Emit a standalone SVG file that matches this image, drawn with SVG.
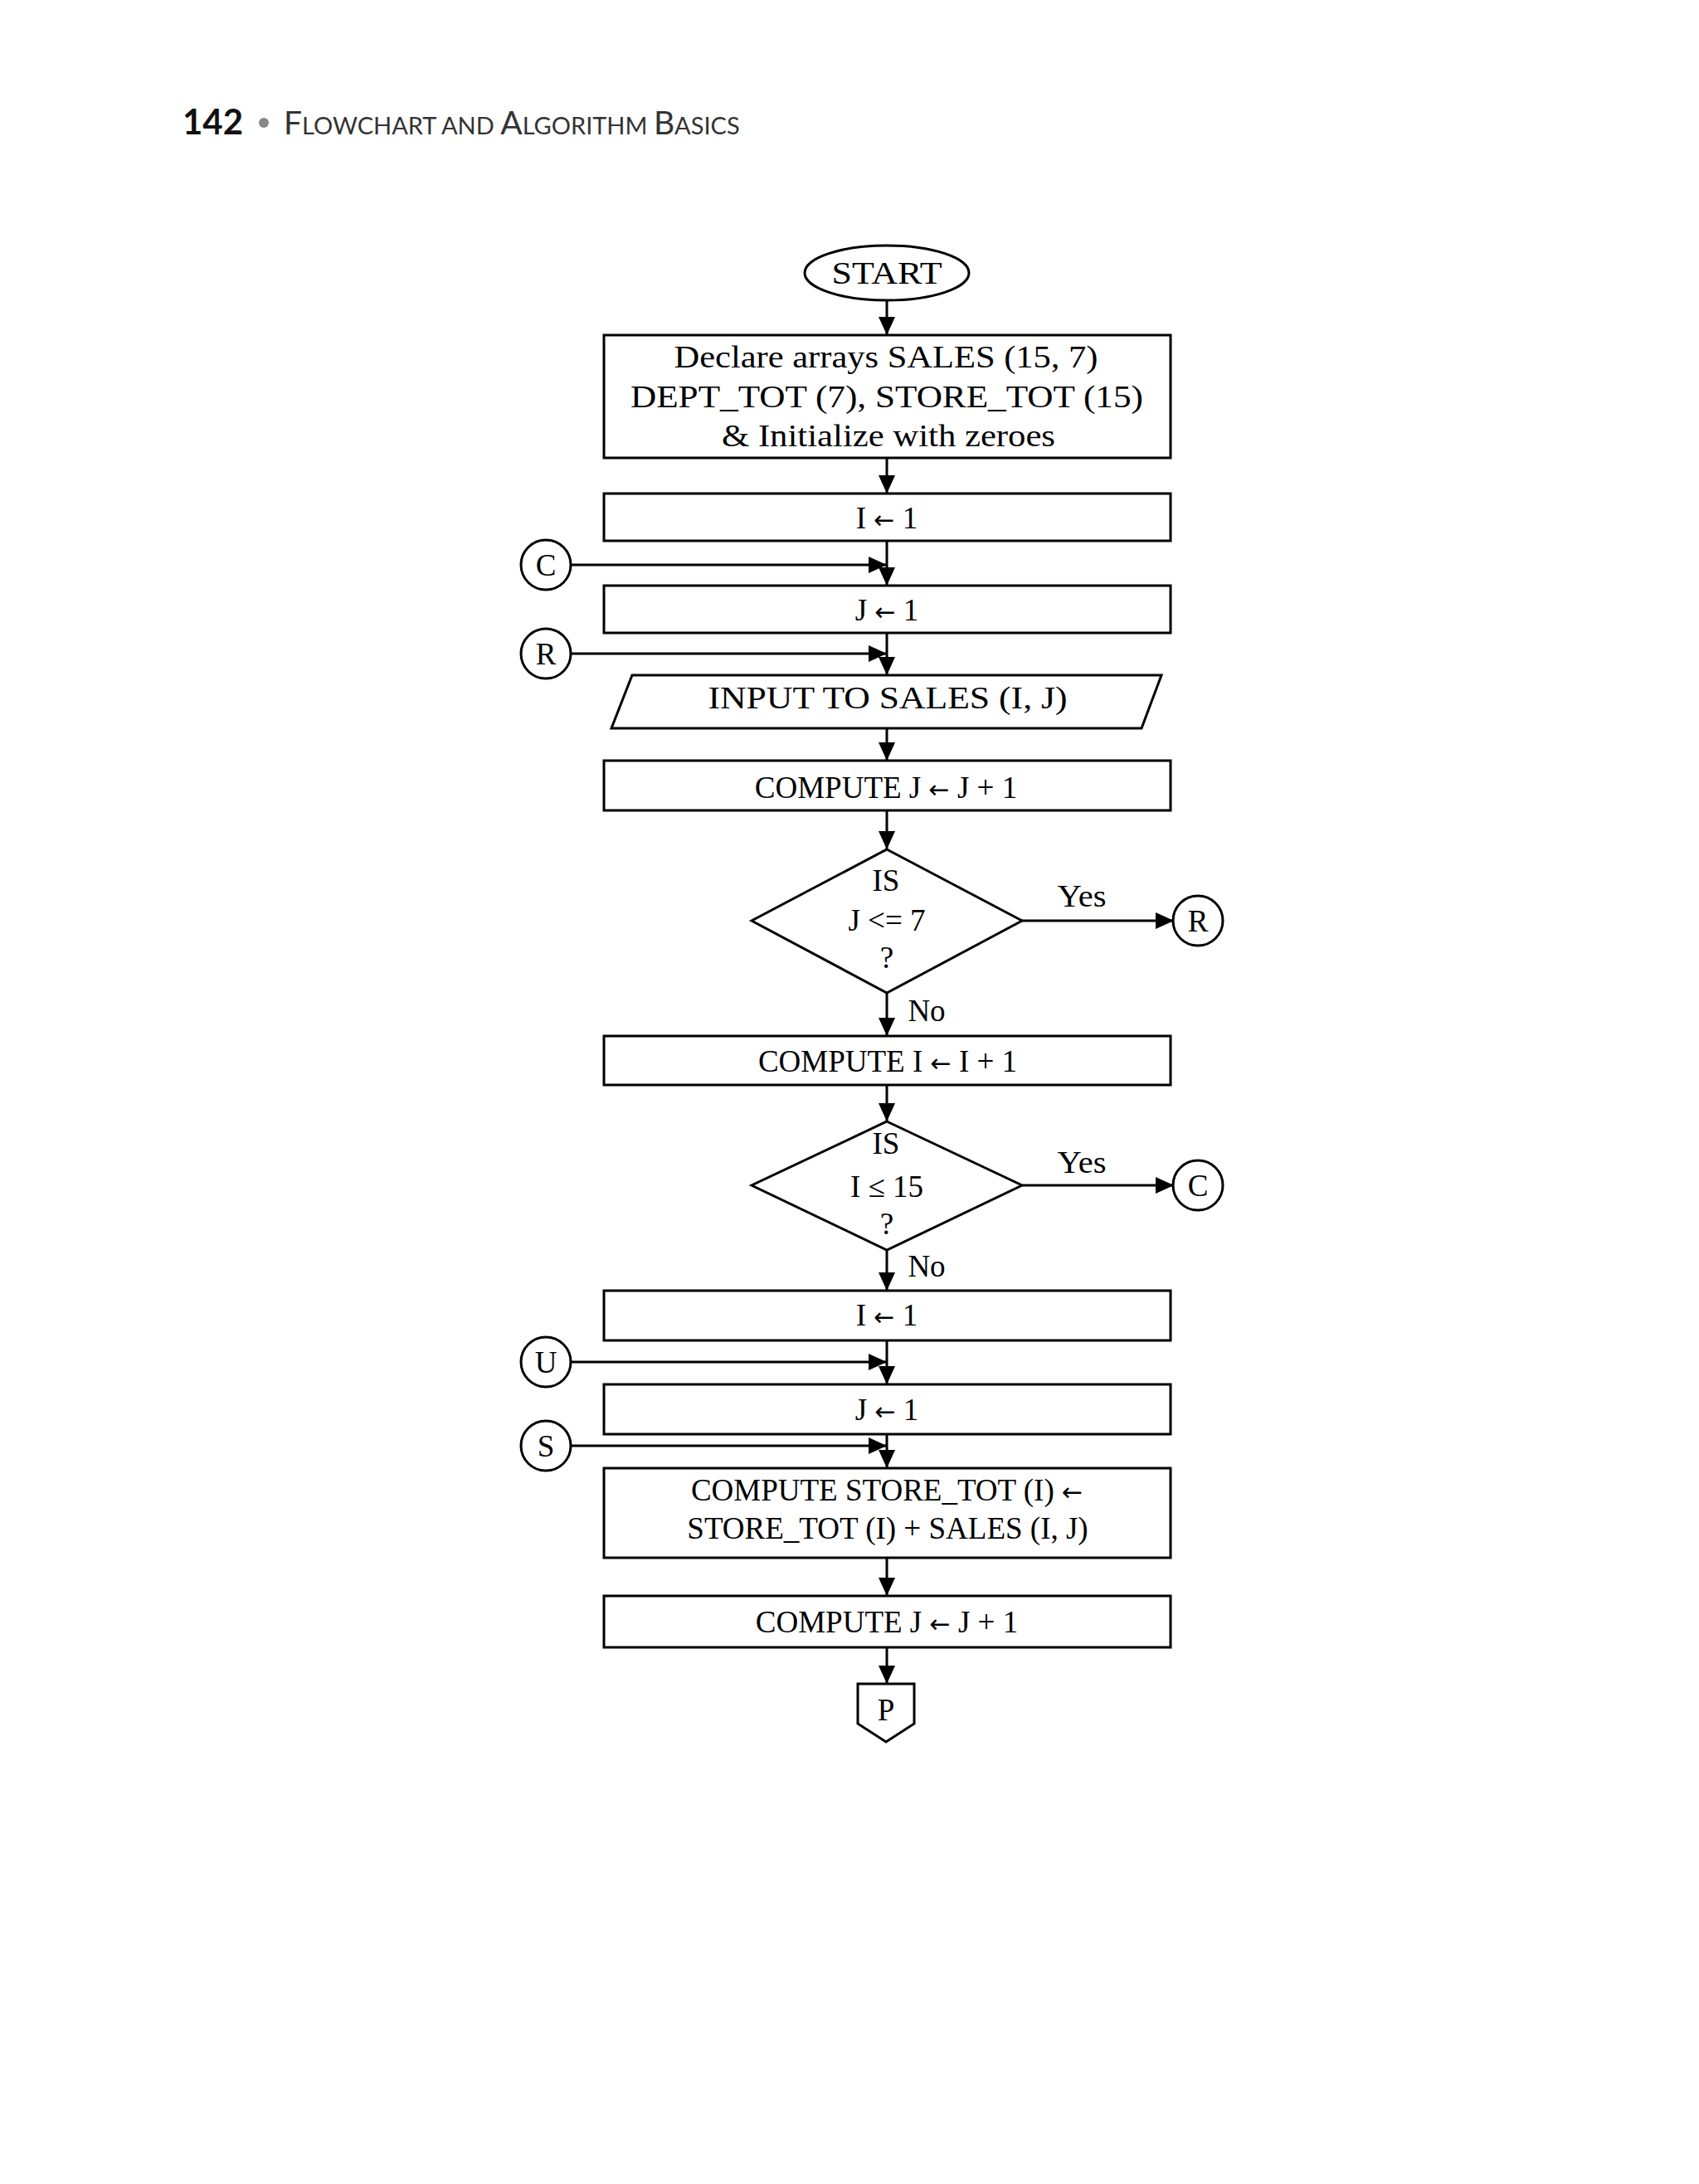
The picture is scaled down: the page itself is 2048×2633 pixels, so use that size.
<svg xmlns="http://www.w3.org/2000/svg" width="2048" height="2633" viewBox="0 0 2048 2633">
<style>
.s{fill:#fff;stroke:#000;stroke-width:3}
.t{font-family:"Liberation Serif","Times New Roman",serif;font-size:37px;fill:#000;text-anchor:middle}
.ar{font-family:"DejaVu Sans",sans-serif;font-size:30px}
.c{stroke:#000;stroke-width:3;fill:none;marker-end:url(#a)}
.h{font-family:Lato,"Open Sans",sans-serif;fill:#333}
</style>
<defs>
<marker id="a" markerUnits="userSpaceOnUse" markerWidth="24" markerHeight="22" refX="22" refY="10" orient="auto"><path d="M0,0 L22,10 L0,20 Z" fill="#000"/></marker>
</defs>
<rect width="2048" height="2633" fill="#fff"/>
<g id="header">
<text x="220" y="162" font-family="Lato, Open Sans, sans-serif" font-weight="bold" font-size="42" fill="#111">142</text>
<circle cx="318" cy="148" r="6" fill="#888"/>
<text x="342" y="162" class="h" font-size="39">F<tspan font-size="29">LOWCHART AND </tspan>A<tspan font-size="29">LGORITHM </tspan>B<tspan font-size="29">ASICS</tspan></text>
</g>
<g id="connectors">
<line class="c" x1="1069" y1="362" x2="1069" y2="404"/>
<line class="c" x1="1069" y1="552" x2="1069" y2="595"/>
<line class="c" x1="1069" y1="652" x2="1069" y2="706"/>
<line class="c" x1="688" y1="681" x2="1069" y2="681"/>
<line class="c" x1="1069" y1="763" x2="1069" y2="814"/>
<line class="c" x1="688" y1="788" x2="1069" y2="788"/>
<line class="c" x1="1069" y1="878" x2="1069" y2="917"/>
<line class="c" x1="1069" y1="977" x2="1069" y2="1024"/>
<line class="c" x1="1069" y1="1197" x2="1069" y2="1249"/>
<line class="c" x1="1232" y1="1110" x2="1415" y2="1110"/>
<line class="c" x1="1069" y1="1308" x2="1069" y2="1352"/>
<line class="c" x1="1232" y1="1429" x2="1415" y2="1429"/>
<line class="c" x1="1069" y1="1507" x2="1069" y2="1556"/>
<line class="c" x1="1069" y1="1616" x2="1069" y2="1669"/>
<line class="c" x1="688" y1="1642" x2="1069" y2="1642"/>
<line class="c" x1="1069" y1="1729" x2="1069" y2="1770"/>
<line class="c" x1="688" y1="1743" x2="1069" y2="1743"/>
<line class="c" x1="1069" y1="1878" x2="1069" y2="1924"/>
<line class="c" x1="1069" y1="1986" x2="1069" y2="2030"/>
<text class="t" x="1304" y="1093" textLength="59" lengthAdjust="spacingAndGlyphs">Yes</text>
<text class="t" x="1117" y="1231">No</text>
<text class="t" x="1304" y="1414" textLength="59" lengthAdjust="spacingAndGlyphs">Yes</text>
<text class="t" x="1117" y="1539">No</text>
</g>
<g id="start"><ellipse class="s" cx="1069" cy="329" rx="99" ry="33"/><text class="t" x="1069" y="342" textLength="133" lengthAdjust="spacingAndGlyphs">START</text></g>
<g id="declare"><rect class="s" x="728" y="404" width="683" height="148"/>
<text class="t" x="1068" y="443" textLength="511" lengthAdjust="spacingAndGlyphs">Declare arrays SALES (15, 7)</text>
<text class="t" x="1069" y="491" textLength="618" lengthAdjust="spacingAndGlyphs">DEPT_TOT (7), STORE_TOT (15)</text>
<text class="t" x="1071" y="538" textLength="402" lengthAdjust="spacingAndGlyphs">&amp; Initialize with zeroes</text></g>
<g id="i1"><rect class="s" x="728" y="595" width="683" height="57"/><text class="t" x="1069" y="637">I <tspan class="ar">←</tspan> 1</text></g>
<g id="cC1"><circle class="s" cx="658" cy="681" r="30"/><text class="t" x="658" y="694">C</text></g>
<g id="j1"><rect class="s" x="728" y="706" width="683" height="57"/><text class="t" x="1069" y="748">J <tspan class="ar">←</tspan> 1</text></g>
<g id="cR1"><circle class="s" cx="658" cy="788" r="30"/><text class="t" x="658" y="801">R</text></g>
<g id="input"><polygon class="s" points="762,814 1400,814 1376,878 737,878"/><text class="t" x="1070" y="854" textLength="433" lengthAdjust="spacingAndGlyphs">INPUT TO SALES (I, J)</text></g>
<g id="jinc1"><rect class="s" x="728" y="917" width="683" height="60"/><text class="t" x="1068" y="962">COMPUTE J <tspan class="ar">←</tspan> J + 1</text></g>
<g id="d1"><polygon class="s" points="1069,1024 1232,1110 1069,1197 906,1110"/>
<text class="t" x="1068" y="1074">IS</text><text class="t" x="1069" y="1122">J &lt;= 7</text><text class="t" x="1069" y="1167">?</text></g>
<g id="cR2"><circle class="s" cx="1444" cy="1110" r="30"/><text class="t" x="1444" y="1123">R</text></g>
<g id="iinc"><rect class="s" x="728" y="1249" width="683" height="59"/><text class="t" x="1070" y="1292">COMPUTE I <tspan class="ar">←</tspan> I + 1</text></g>
<g id="d2"><polygon class="s" points="1069,1352 1232,1429 1069,1507 906,1429"/>
<text class="t" x="1068" y="1391">IS</text><text class="t" x="1069" y="1443">I ≤ 15</text><text class="t" x="1069" y="1488">?</text></g>
<g id="cC2"><circle class="s" cx="1444" cy="1429" r="30"/><text class="t" x="1444" y="1442">C</text></g>
<g id="i2"><rect class="s" x="728" y="1556" width="683" height="60"/><text class="t" x="1069" y="1598">I <tspan class="ar">←</tspan> 1</text></g>
<g id="cU"><circle class="s" cx="658" cy="1642" r="30"/><text class="t" x="658" y="1655">U</text></g>
<g id="j2"><rect class="s" x="728" y="1669" width="683" height="60"/><text class="t" x="1069" y="1712">J <tspan class="ar">←</tspan> 1</text></g>
<g id="cS"><circle class="s" cx="658" cy="1743" r="30"/><text class="t" x="658" y="1756">S</text></g>
<g id="store"><rect class="s" x="728" y="1770" width="683" height="108"/>
<text class="t" x="1069" y="1809">COMPUTE STORE_TOT (I) <tspan class="ar">←</tspan></text>
<text class="t" x="1070" y="1855">STORE_TOT (I) + SALES (I, J)</text></g>
<g id="jinc2"><rect class="s" x="728" y="1924" width="683" height="62"/><text class="t" x="1069" y="1968">COMPUTE J <tspan class="ar">←</tspan> J + 1</text></g>
<g id="p"><polygon class="s" points="1034,2030 1102,2030 1102,2078 1068,2100 1034,2078"/><text class="t" x="1068" y="2074">P</text></g>
</svg>
